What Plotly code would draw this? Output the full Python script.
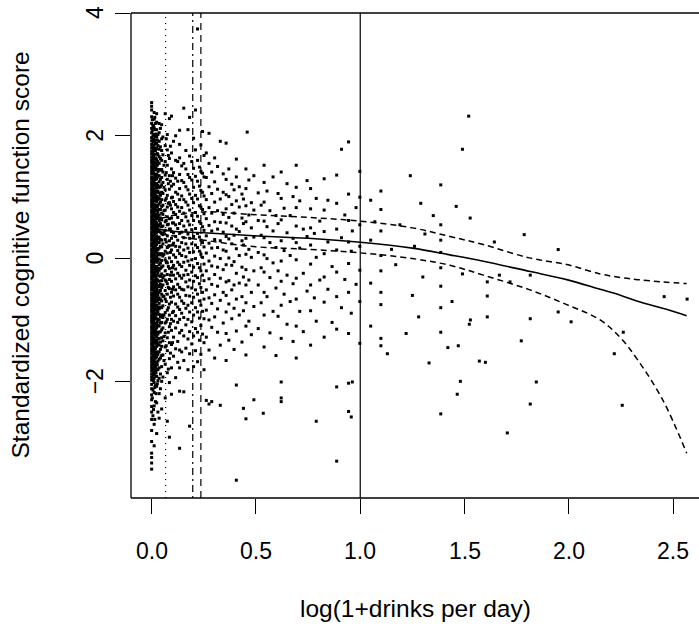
import plotly.graph_objects as go

# ---------------- data ----------------
x_ticks = [0.0, 0.5, 1.0, 1.5, 2.0, 2.5]
x_tick_labels = ["0.0", "0.5", "1.0", "1.5", "2.0", "2.5"]
y_ticks = [-2, 0, 2, 4]
y_tick_labels = ["\u22122", "0", "2", "4"]

x_title = "log(1+drinks per day)"
y_title = "Standardized cognitive function score"

# reference lines (x positions)
vline_dotted = 0.067
vline_dashdot = 0.197
vline_dashed = 0.236
vline_solid = 1.0

# fitted curve and its band
fit_x = [0, 0.05, 0.1, 0.25, 0.47, 0.75, 1.0, 1.25, 1.43, 1.59, 1.81, 1.99, 2.15, 2.25, 2.33, 2.45, 2.565]
fit_y = [0.52, 0.47, 0.445, 0.42, 0.375, 0.33, 0.266, 0.17, 0.06, -0.044, -0.207, -0.343, -0.5, -0.6, -0.696, -0.81, -0.93]
upper_y = [0.62, 0.66, 0.70, 0.76, 0.72, 0.67, 0.61, 0.50, 0.36, 0.228, 0.011, -0.098, -0.25, -0.31, -0.343, -0.38, -0.408]
lower_y = [0.43, 0.40, 0.37, 0.30, 0.20, 0.15, 0.093, 0.0, -0.11, -0.27, -0.506, -0.75, -1.0, -1.3, -1.65, -2.3, -3.17]

# dense band of light / non drinkers: (x, list of y)
band_columns = [
    (0.000, [-3.43,-3.33,-3.24,-3.17,-2.98,-2.8,-2.62,-2.5,-2.41,-2.3,-2.22,-2.12,-2.05,-1.98,-1.93,-1.88,-1.83,-1.78,-1.74,-1.69,-1.64,-1.6,-1.55,-1.5,-1.46,-1.41,-1.37,-1.32,-1.28,-1.23,-1.19,-1.14,-1.1,-1.05,-1.01,-0.96,-0.92,-0.87,-0.83,-0.78,-0.74,-0.69,-0.65,-0.6,-0.56,-0.51,-0.47,-0.42,-0.38,-0.33,-0.29,-0.24,-0.2,-0.15,-0.11,-0.06,-0.02,0.03,0.07,0.12,0.16,0.21,0.25,0.3,0.34,0.39,0.43,0.48,0.52,0.57,0.61,0.66,0.7,0.75,0.79,0.84,0.88,0.93,0.97,1.02,1.06,1.11,1.15,1.2,1.24,1.29,1.33,1.38,1.42,1.47,1.51,1.56,1.6,1.65,1.7,1.75,1.8,1.86,1.92,1.97,2.05,2.12,2.2,2.31,2.42,2.48,2.54]),
    (0.003, [-2.27,-1.96,-1.81,-1.67,-1.53,-1.39,-1.26,-1.13,-0.99,-0.85,-0.73,-0.59,-0.46,-0.32,-0.19,-0.05,0.09,0.23,0.37,0.5,0.63,0.77,0.9,1.04,1.17,1.31,1.44,1.58,1.72,1.84,2.08,2.26]),
    (0.006, [-2.56,-2.14,-1.9,-1.77,-1.7,-1.61,-1.49,-1.42,-1.34,-1.21,-1.16,-1.07,-0.97,-0.9,-0.81,-0.72,-0.66,-0.57,-0.48,-0.4,-0.35,-0.27,-0.17,-0.09,0.0,0.05,0.14,0.23,0.28,0.36,0.46,0.54,0.59,0.67,0.77,0.83,0.91,0.99,1.08,1.16,1.22,1.3,1.4,1.46,1.54,1.62,1.73,1.82,1.9,2.0,2.15]),
    (0.009, [-2.46,-1.99,-1.84,-1.7,-1.57,-1.44,-1.3,-1.17,-1.03,-0.9,-0.77,-0.63,-0.5,-0.36,-0.23,-0.09,0.04,0.17,0.31,0.44,0.58,0.72,0.85,0.98,1.12,1.26,1.39,1.53,1.67,1.8,1.95,2.17]),
    (0.012, [-3.05,-2.7,-2.4,-2.18,-2.02,-1.95,-1.87,-1.8,-1.72,-1.66,-1.58,-1.51,-1.45,-1.38,-1.31,-1.25,-1.18,-1.12,-1.06,-0.99,-0.93,-0.86,-0.8,-0.74,-0.68,-0.61,-0.55,-0.49,-0.43,-0.36,-0.3,-0.24,-0.18,-0.12,-0.05,0.01,0.07,0.13,0.19,0.26,0.32,0.38,0.44,0.5,0.57,0.63,0.69,0.75,0.81,0.88,0.94,1.0,1.06,1.13,1.19,1.25,1.31,1.38,1.44,1.5,1.57,1.63,1.7,1.78,1.85,1.93,2.02,2.13,2.27,2.38]),
    (0.015, [-2.62,-2.1,-1.9,-1.74,-1.6,-1.46,-1.33,-1.2,-1.07,-0.94,-0.8,-0.67,-0.53,-0.4,-0.26,-0.13,0.0,0.14,0.27,0.41,0.54,0.68,0.81,0.95,1.08,1.22,1.35,1.49,1.62,1.77,1.92,2.1,2.3]),
    (0.018, [-2.33,-2.07,-1.84,-1.76,-1.62,-1.55,-1.47,-1.33,-1.24,-1.16,-1.09,-0.97,-0.89,-0.82,-0.71,-0.64,-0.57,-0.45,-0.39,-0.28,-0.21,-0.14,-0.03,0.04,0.1,0.21,0.29,0.34,0.47,0.53,0.6,0.71,0.78,0.84,0.97,1.03,1.1,1.21,1.29,1.35,1.48,1.56,1.64,1.76,1.87,1.99,2.2]),
    (0.021, [-2.2,-1.86,-1.69,-1.53,-1.38,-1.22,-1.07,-0.92,-0.77,-0.62,-0.47,-0.32,-0.17,-0.02,0.13,0.28,0.42,0.57,0.72,0.87,1.02,1.17,1.32,1.47,1.62,1.8,2.03]),
    (0.024, [-2.85,-2.35,-2.08,-1.92,-1.8,-1.69,-1.6,-1.52,-1.43,-1.35,-1.27,-1.2,-1.13,-1.05,-0.98,-0.9,-0.83,-0.76,-0.69,-0.62,-0.55,-0.48,-0.41,-0.34,-0.27,-0.2,-0.13,-0.06,0.02,0.09,0.16,0.23,0.3,0.37,0.44,0.51,0.58,0.65,0.72,0.79,0.86,0.93,1.0,1.08,1.15,1.22,1.3,1.37,1.45,1.53,1.61,1.7,1.79,1.88,1.98,2.1,2.22,2.36]),
    (0.027, [-2.04,-1.73,-1.55,-1.37,-1.2,-1.03,-0.86,-0.69,-0.52,-0.35,-0.18,-0.01,0.16,0.33,0.5,0.67,0.84,1.01,1.18,1.35,1.52,1.71,1.93]),
    (0.030, [-2.5,-1.99,-1.81,-1.67,-1.56,-1.4,-1.31,-1.23,-1.09,-0.99,-0.87,-0.79,-0.66,-0.59,-0.44,-0.36,-0.23,-0.16,-0.04,0.06,0.14,0.27,0.33,0.46,0.55,0.68,0.76,0.87,0.96,1.1,1.19,1.33,1.42,1.58,1.69,1.84,2.02]),
    (0.036, [-2.6,-2.2,-1.95,-1.78,-1.64,-1.52,-1.41,-1.3,-1.2,-1.1,-1.0,-0.91,-0.82,-0.73,-0.64,-0.55,-0.46,-0.37,-0.28,-0.19,-0.1,-0.01,0.08,0.17,0.26,0.35,0.44,0.53,0.62,0.71,0.8,0.89,0.98,1.07,1.16,1.25,1.35,1.45,1.55,1.66,1.78,1.91,2.05,2.2]),
    (0.042, [-2.12,-1.88,-1.62,-1.48,-1.36,-1.19,-1.05,-0.95,-0.79,-0.67,-0.52,-0.42,-0.29,-0.16,-0.07,0.06,0.2,0.31,0.43,0.57,0.66,0.8,0.92,1.03,1.17,1.29,1.44,1.63,1.82,2.12]),
    (0.048, [-2.45,-2.0,-1.76,-1.58,-1.43,-1.29,-1.16,-1.04,-0.92,-0.8,-0.69,-0.58,-0.47,-0.36,-0.25,-0.14,-0.03,0.08,0.19,0.3,0.41,0.52,0.63,0.74,0.85,0.96,1.08,1.2,1.32,1.45,1.6,1.76,1.95,2.18]),
    (0.054, [-1.93,-1.57,-1.34,-1.13,-0.96,-0.77,-0.62,-0.43,-0.31,-0.12,0.04,0.24,0.39,0.53,0.72,0.87,1.06,1.24,1.41,1.69,1.98]),
    (0.059, [-1.66,-1.27,-0.92,-0.61,-0.28,0.07,0.43,0.78,1.16,1.52]),
    (0.065, [-2.27,-1.72,-1.44,-1.21,-1.05,-0.88,-0.66,-0.52,-0.35,-0.2,-0.02,0.12,0.31,0.46,0.6,0.79,0.95,1.12,1.36,1.58,1.84,2.36]),
    (0.070, [-1.42,-1.03,-0.7,-0.37,-0.05,0.27,0.62,0.98,1.4,1.95]),
    (0.075, [-2.65,-1.86,-1.5,-1.29,-0.99,-0.84,-0.58,-0.41,-0.26,-0.07,0.09,0.18,0.37,0.55,0.68,0.84,1.03,1.29,1.52,1.77,2.02]),
    (0.080, [-1.8,-1.2,-0.8,-0.47,-0.13,0.2,0.56,0.9,1.22,1.68]),
    (0.085, [-2.91,-2.02,-1.63,-1.37,-1.11,-0.92,-0.74,-0.49,-0.34,-0.16,0.01,0.21,0.29,0.48,0.65,0.91,1.13,1.35,1.63,2.28]),
    (0.090, [-1.54,-1.06,-0.63,-0.27,0.1,0.48,0.87,1.26,1.83]),
    (0.095, [-2.21,-1.78,-1.4,-1.17,-0.99,-0.71,-0.55,-0.37,-0.22,-0.05,0.14,0.33,0.44,0.66,0.81,0.99,1.18,1.46,1.72,2.32]),
    (0.100, [-1.37,-0.88,-0.5,-0.15,0.22,0.58,1.0,1.35]),
    (0.105, [-1.59,-1.28,-1.02,-0.86,-0.61,-0.46,-0.27,-0.11,0.06,0.25,0.42,0.58,0.75,0.93,1.21,1.4,1.91]),
    (0.115, [-1.94,-1.47,-1.13,-0.93,-0.74,-0.51,-0.33,-0.17,0.02,0.2,0.36,0.55,0.72,0.88,1.08,1.31,1.6,2.0]),
    (0.125, [-1.69,-1.35,-1.04,-0.79,-0.58,-0.42,-0.24,-0.06,0.13,0.3,0.49,0.67,0.84,1.05,1.26,1.58]),
    (0.134, [-3.09,-2.16,-1.78,-1.49,-1.21,-0.99,-0.83,-0.63,-0.47,-0.28,-0.1,0.08,0.19,0.41,0.57,0.77,0.96,1.14,1.37,1.64,1.86,2.09]),
    (0.144, [-1.52,-1.17,-0.89,-0.69,-0.5,-0.32,-0.13,0.05,0.26,0.43,0.62,0.83,1.02,1.27,1.51]),
    (0.154, [-2.17,-1.66,-1.26,-0.96,-0.73,-0.51,-0.27,-0.06,0.14,0.34,0.53,0.74,0.96,1.24,1.55,2.45]),
    (0.164, [-1.46,-1.08,-0.81,-0.6,-0.38,-0.19,0.03,0.24,0.46,0.68,0.92,1.17,1.46,1.76]),
    (0.174, [-1.81,-1.31,-0.99,-0.76,-0.46,-0.26,-0.04,0.17,0.4,0.61,0.87,1.12,1.37,2.1]),
    (0.182, [-2.73,-1.55,-1.19,-0.87,-0.61,-0.35,-0.11,0.1,0.33,0.55,0.79,1.05,1.32,1.67,2.3]),
    (0.192, [-1.39,-1.03,-0.72,-0.48,-0.22,-0.02,0.24,0.47,0.7,0.98,1.28,1.58]),
    (0.201, [-1.76,-1.26,-0.92,-0.63,-0.37,-0.14,0.11,0.36,0.62,0.91,1.16,1.47,1.96]),
    (0.210, [-1.5,-1.14,-0.8,-0.51,-0.28,0.0,0.22,0.49,0.75,1.03,1.34,1.77,2.42]),
    (0.220, [-1.68,-1.2,-0.87,-0.58,-0.31,-0.08,0.18,0.41,0.69,0.97,1.26,1.6,3.74]),
    (0.229, [-1.33,-0.97,-0.69,-0.41,-0.15,0.12,0.35,0.6,0.86,1.18,1.49]),
    (0.236, [-1.56,-1.09,-0.76,-0.47,-0.2,0.07,0.3,0.57,0.84,1.11,1.42,1.85]),
    (0.244, [-1.23,-0.86,-0.55,-0.27,0.02,0.26,0.52,0.8,1.08,1.39,2.07]),
    (0.251, [-1.81,-1.37,-0.98,-0.66,-0.36,-0.09,0.19,0.46,0.73,1.02,1.33,1.68]),
]

# moderate drinkers: (x, list of y)
mid_columns = [
    (0.262, [-2.31,-1.28,-0.84,-0.51,-0.2,0.09,0.37,0.65,0.96,1.32,1.72]),
    (0.275, [-2.37,-1.49,-1.0,-0.64,-0.33,-0.04,0.25,0.54,0.83,1.17,1.55,2.04]),
    (0.288, [-2.33,-1.12,-0.73,-0.42,-0.12,0.17,0.45,0.74,1.06,1.41]),
    (0.302, [-1.62,-0.95,-0.59,-0.26,0.04,0.31,0.6,0.92,1.25,1.64]),
    (0.316, [-1.2,-0.82,-0.45,-0.14,0.18,0.48,0.78,1.13,1.5]),
    (0.329, [-2.39,-1.41,-0.68,-0.32,0.0,0.29,0.59,0.97,1.91]),
    (0.343, [-1.05,-0.55,-0.18,0.14,0.43,0.72,1.08,1.38]),
    (0.357, [-1.66,-1.22,-0.87,-0.6,-0.38,-0.1,0.12,0.36,0.58,0.81,1.04,1.29,1.88]),
    (0.370, [-1.33,-0.74,-0.36,0.01,0.32,0.67,1.01,1.46]),
    (0.384, [-0.98,-0.51,-0.11,0.24,0.53,0.88,1.21]),
    (0.395, [-1.48,-0.81,-0.43,-0.05,0.38,0.74,1.12]),
    (0.406, [-3.61,-2.06,-1.18,-0.66,-0.24,0.16,0.48,0.94,1.33,1.62]),
    (0.420, [-0.92,-0.4,0.05,0.44,0.84,1.17]),
    (0.433, [-1.36,-0.62,-0.14,0.29,0.66,1.05]),
    (0.440, [-2.44,-0.85,-0.3,0.22,0.57,0.97]),
    (0.452, [-2.61,-1.57,-1.1,-0.72,-0.43,-0.18,0.07,0.33,0.6,0.86,1.14,1.46]),
    (0.458, [2.06]),
    (0.466, [-1.02,-0.35,0.15,0.71,1.28]),
    (0.478, [-1.24,-0.55,0.02,0.5,0.91]),
    (0.490, [-2.3,-0.78,-0.2,0.35,0.79,1.35]),
    (0.511, [-1.14,-0.43,0.1,0.62,1.07]),
    (0.525, [-0.72,-0.15,0.38,0.87]),
    (0.535, [-2.52]),
    (0.539, [-1.44,-0.92,-0.55,-0.22,0.06,0.34,0.61,0.92,1.24,1.52]),
    (0.553, [-0.62,0.0,0.52,1.1]),
    (0.567, [-1.21,-0.31,0.26,0.78]),
    (0.582, [-0.86,-0.07,0.45,1.33]),
    (0.596, [-1.58,-0.48,0.18,0.7]),
    (0.606, [-0.94,-0.2,0.57,1.06]),
    (0.621, [-2.33,-2.27,-2.01,-1.3,-0.76,-0.37,-0.04,0.29,0.63,0.98,1.41]),
    (0.635, [-0.58,0.13,0.82]),
    (0.649, [-1.07,-0.27,0.42,1.22]),
    (0.664, [-0.7,0.05,0.7]),
    (0.678, [-1.35,-0.41,0.33,1.01]),
    (0.693, [-1.62,-1.1,-0.66,-0.32,-0.02,0.26,0.53,0.83,1.16,1.52]),
    (0.710, [-0.86,0.17,0.94]),
    (0.727, [-1.19,-0.24,0.48]),
    (0.745, [-0.53,0.36,1.27]),
    (0.762, [-1.41,-0.85,-0.43,-0.09,0.22,0.5,0.81,1.14]),
    (0.780, [-0.64,0.41]),
    (0.789, [-2.65,-1.02,0.02,0.98]),
    (0.806, [-0.35,0.61]),
    (0.827, [-1.28,-0.71,-0.3,0.08,0.44,0.79,1.3]),
    (0.845, [-0.5,0.27,0.95]),
    (0.865, [-1.04,-0.13]),
    (0.887, [-3.3,-2.09,-1.15,-0.62,-0.22,0.14,0.48,0.9,1.36]),
    (0.910, [-0.8,0.34,1.78]),
    (0.926, [-0.34,0.71]),
    (0.944, [-2.49,-2.03,-1.22,-0.55,-0.08,0.27,0.62,1.05,1.9]),
    (0.957, [-2.58,-0.89,0.12]),
    (0.962, [-2.01,0.45]),
    (0.980, [-0.42,0.83]),
    (0.998, [-1.38,-0.7,-0.19,0.2,0.55,1.0,1.42]),
]

# heavy drinkers (x, y)
sparse_points = [
    (1.05,0.95),(1.05,-0.4),(1.05,0.3),(1.05,-1.1),(1.07,0.6),(1.099,-0.2),(1.099,-1.3),
    (1.099,-1.42),(1.099,1.1),(1.099,0.05),(1.099,-0.75),(1.099,0.45),(1.099,-0.55),(1.099,0.8),
    (1.13,-1.55),(1.15,0.15),(1.17,-0.1),(1.19,0.55),(1.22,-1.22),(1.24,1.35),(1.25,-0.6),
    (1.26,0.2),(1.28,-0.95),(1.29,0.9),(1.3,-0.3),(1.31,0.4),(1.33,-1.7),(1.35,0.7),
    (1.386,-0.8),(1.386,1.2),(1.386,-0.15),(1.386,-2.53),(1.386,-1.2),(1.386,0.3),(1.386,0.55),
    (1.386,-0.45),(1.386,0.1),(1.42,-1.45),(1.44,-0.7),(1.46,0.85),(1.48,-2.0),(1.49,-0.25),
    (1.49,1.78),(1.52,2.32),
    (1.527,0.66),(1.786,0.39),(1.643,0.27),(1.949,0.147),(1.667,-0.27),(1.609,-0.38),
    (1.718,-0.38),(1.815,-0.27),(1.609,-0.61),(1.609,-0.95),(1.528,-1.0),(1.523,-1.07),
    (1.815,-0.98),(1.949,-0.87),(2.011,-1.03),(2.261,-1.2),(2.218,-1.55),(2.457,-0.62),
    (2.567,-0.66),(1.47,-1.42),(1.772,-1.34),(1.571,-1.67),(1.6,-1.69),(1.844,-2.01),
    (1.465,-2.21),(1.815,-2.37),(2.256,-2.39),(1.705,-2.84),
]

# ---------------- build ----------------
pts_x, pts_y = [], []
for cx, ys in band_columns + mid_columns:
    for yv in ys:
        pts_x.append(cx)
        pts_y.append(yv)
for px, py in sparse_points:
    pts_x.append(px)
    pts_y.append(py)

fig = go.Figure()
fig.add_trace(go.Scatter(x=pts_x, y=pts_y, mode="markers",
                         marker=dict(symbol="square", size=3, color="black", line=dict(width=0)),
                         hoverinfo="skip", showlegend=False))
fig.add_trace(go.Scatter(x=fit_x, y=fit_y, mode="lines", line=dict(color="black", width=1.6, shape="spline"),
                         showlegend=False))
fig.add_trace(go.Scatter(x=fit_x, y=upper_y, mode="lines",
                         line=dict(color="black", width=1.5, dash="6px,4px", shape="spline"), showlegend=False))
fig.add_trace(go.Scatter(x=fit_x, y=lower_y, mode="lines",
                         line=dict(color="black", width=1.5, dash="6px,4px", shape="spline"), showlegend=False))

shapes = []
for (x0, y0, x1, y1) in [(0, 0, 0, 1), (0, 1, 1, 1), (0, 0, 1, 0)]:
    shapes.append(dict(type="line", xref="paper", yref="paper", x0=x0, y0=y0, x1=x1, y1=y1,
                       line=dict(color="black", width=1.3)))
for xv, dash in [(vline_dotted, "1px,5px"), (vline_dashdot, "2px,4px,7px,4px"),
                 (vline_dashed, "7px,5px"), (vline_solid, "solid")]:
    shapes.append(dict(type="line", xref="x", yref="paper", x0=xv, x1=xv, y0=0, y1=1,
                       line=dict(color="black", width=1.2, dash=dash)))

font_family = "Liberation Sans, Arial, sans-serif"
fsize = 23
title_size = 24.5
annotations = []
for tv, tl in zip(x_ticks, x_tick_labels):
    annotations.append(dict(x=tv, y=0, xref="x", yref="paper", text=tl, showarrow=False,
                            xanchor="center", yanchor="middle", yshift=-53,
                            font=dict(family=font_family, size=fsize, color="black")))
for tv, tl in zip(y_ticks, y_tick_labels):
    annotations.append(dict(x=0, y=tv, xref="paper", yref="y", text=tl, showarrow=False,
                            xanchor="center", yanchor="middle", xshift=-36, textangle=-90,
                            font=dict(family=font_family, size=fsize, color="black")))
annotations.append(dict(x=0.5, y=0, xref="paper", yref="paper", text=x_title, showarrow=False,
                        xanchor="center", yanchor="middle", yshift=-110,
                        font=dict(family=font_family, size=title_size, color="black")))
annotations.append(dict(x=0, y=0.5, xref="paper", yref="paper", text=y_title, showarrow=False,
                        xanchor="center", yanchor="middle", xshift=-111, textangle=-90,
                        font=dict(family=font_family, size=title_size, color="black")))

fig.update_layout(
    width=699, height=627,
    margin=dict(l=131, r=0, t=13, b=129, pad=0),
    paper_bgcolor="white", plot_bgcolor="white",
    showlegend=False,
    shapes=shapes, annotations=annotations,
    xaxis=dict(range=[-0.099, 2.624], showgrid=False, zeroline=False, showline=False,
               ticks="outside", ticklen=15, tickwidth=1.2, tickcolor="black",
               tickvals=x_ticks, showticklabels=False, fixedrange=True),
    yaxis=dict(range=[-3.9, 4.0], showgrid=False, zeroline=False, showline=False,
               ticks="outside", ticklen=15, tickwidth=1.2, tickcolor="black",
               tickvals=y_ticks, showticklabels=False, fixedrange=True),
)

fig.write_html("out.html", config={"displayModeBar": False},
               post_script="document.body.style.margin='0px';document.body.style.padding='0px';")
